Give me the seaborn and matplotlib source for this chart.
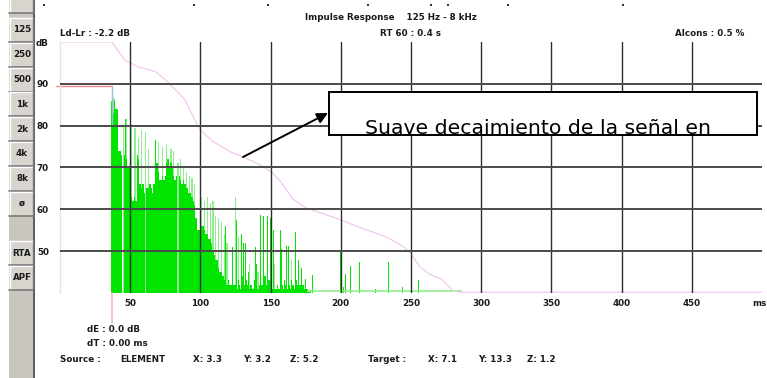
import numpy as np
import matplotlib
matplotlib.use("Agg")
import matplotlib.pyplot as plt
from matplotlib.patches import Rectangle
from matplotlib.lines import Line2D
import seaborn as sns

# ---------------- data ----------------
x_ticks = [50, 100, 150, 200, 250, 300, 350, 400, 450]
y_ticks = [50, 60, 70, 80, 90]
band_buttons = ["125", "250", "500", "1k", "2k", "4k", "8k", "ø", "", "RTA", "APF"]

direct_ms = 37          # arrival of direct sound
direct_db = 89.5
pre_ms = -3

dense_start_ms = 37
dense_db = [86, 83, 86, 84, 84, 74, 74, 73, 40, 73,
            72, 70, 70, 70, 63, 62, 63, 62, 73, 72,
            66, 65, 66, 64, 40, 65, 65, 66, 65, 64,
            66, 70, 71, 69, 67, 67, 68, 67, 68, 71,
            72, 70, 71, 70, 68, 67, 68, 40, 68, 67,
            66, 67, 66, 65, 65, 64, 64, 63, 62, 61,
            58, 55, 55, 55, 56, 56, 55, 54, 54, 53,
            53, 52, 50, 49, 48, 48, 46, 45, 45, 44,
            43, 43, 42, 43, 42, 42, 41, 42,
            42, 41, 43, 42, 41, 44, 42, 41, 43, 42,
            41, 42, 41, 41, 43, 42, 41, 42, 44, 42,
            43, 44, 42, 41, 43, 42, 41, 44, 41, 41,
            42, 41, 43, 42, 41, 43, 42, 41, 42, 41,
            43, 42, 41, 43, 42, 41, 42, 41, 42, 41,
            40.5, 41, 40.5, 40.5]

spike_ms = [38.5, 45, 47.5, 51, 53.5, 56, 58, 61, 63, 70, 73, 76, 79, 81, 84,
            86, 88, 90, 92, 94, 96, 101, 103, 105, 107, 109, 111, 113, 115,
            117, 119, 125, 127, 135, 141, 153, 165]
spike_db = [86.5, 80, 81.5, 80.5, 79.4, 77, 79, 78.5, 74.5, 76, 75, 75.5, 74.5,
            74, 71, 72, 70, 69, 68, 67.5, 66, 63, 62, 63, 61.5, 62, 58.5, 58,
            57, 54, 52, 63, 53.4, 47, 45, 47, 48]

peak_ms = [47, 68, 118, 123, 126, 129, 131, 132, 134, 139, 140, 143, 145, 148,
           150, 152, 157, 158, 161, 163, 168, 170, 172, 175, 180, 198, 200, 202,
           203, 207, 213, 225, 234, 244, 250, 255]
peak_db = [81.7, 76.5, 56, 51, 57.5, 54, 52, 52, 45, 51, 47, 58.7, 58.3, 58.3,
           58, 55, 55, 50.4, 51.2, 51.2, 54.5, 48, 46, 43.3, 44.4, 43.4, 50, 41.4,
           44.6, 46.4, 47.4, 41, 47.4, 41.4, 40.6, 43]

floor_ms = [176, 286]
floor_db = 40.4

decay_ms = [0, 37, 46, 50, 56, 62, 68, 75, 82, 89, 95, 100, 109, 121, 130, 142,
            151, 157, 166, 176, 187, 199, 211, 221, 233, 244, 249, 256, 263, 272,
            280, 285, 500]
decay_db = [100, 100, 95.7, 95, 94, 93.5, 92.9, 91, 88.6, 86.2, 82, 79, 76.2,
            73.8, 72.6, 70.7, 68.8, 66.7, 62.4, 60.2, 59, 57.6, 56, 54.8, 53.3,
            51.2, 49.8, 46.4, 44.5, 43.3, 40.5, 40.2, 40.2]

# ---------------- figure ----------------
sns.set_theme(style="white")
plt.rcParams["font.family"] = ["DejaVu Sans"]

W, H = 767, 378
fig = plt.figure(figsize=(W / 100, H / 100), dpi=100)
fig.patch.set_facecolor("white")

def fx(px):
    return px / W

def fy(py):
    return 1 - py / H

TXT = "#1a1a1a"
FS = 6.3

ax = fig.add_axes([fx(60), fy(293), fx(762) - fx(60), fy(42) - fy(293)])
ax.set_facecolor("white")

# bars
bright = "#00e400"
light = "#8fef8f"
ax.bar(spike_ms, np.array(spike_db) - 40, bottom=40, width=0.9,
       color=light, linewidth=0, zorder=1)
dense_ms = np.arange(dense_start_ms, dense_start_ms + len(dense_db))
ax.bar(dense_ms, np.array(dense_db) - 40, bottom=40, width=1.0,
       color=bright, linewidth=0, zorder=1.1, antialiased=False)
ax.bar(peak_ms, np.array(peak_db) - 40, bottom=40, width=0.7,
       color=bright, linewidth=0, zorder=1.2)
ax.hlines(floor_db, floor_ms[0], floor_ms[1], color=light, lw=1.2, zorder=1.3)

# decay curve
sns.lineplot(x=decay_ms, y=decay_db, ax=ax, color="#f0c2f0", lw=0.8,
             zorder=1.5, legend=False)

# direct sound markers
ax.plot([pre_ms, direct_ms], [direct_db, direct_db], color="#f08a8a", lw=1.0,
        clip_on=False, zorder=1.6)
ax.plot([direct_ms + 0.3, direct_ms + 0.3], [80, direct_db], color="#9dbfd6",
        lw=1.0, zorder=1.6)
ax.plot([direct_ms, direct_ms], [40, 32.8], color="#f7c0c0", lw=1.2,
        clip_on=False, zorder=1.6)

ax.set_xlim(0, 500)
ax.set_ylim(40, 100)
ax.set_xticks(x_ticks)
ax.set_yticks(y_ticks)
ax.set_xticklabels([str(t) for t in x_ticks])
ax.set_yticklabels([str(t) for t in y_ticks])
ax.tick_params(axis="both", length=0, labelsize=FS, colors=TXT)
ax.tick_params(axis="x", pad=4)
ax.tick_params(axis="y", pad=8)
for lab in ax.get_xticklabels() + ax.get_yticklabels():
    lab.set_fontweight("bold")
ax.set_axisbelow(False)
ax.grid(False)
ax.xaxis.grid(True, color="#2e2e2e", lw=1.0, zorder=2.5)
ax.yaxis.grid(True, color="#4a4a4a", lw=1.4, zorder=2.5)
ax.set_xlabel("")
ax.set_ylabel("")
for s in ["top", "right", "bottom"]:
    ax.spines[s].set_visible(False)
ax.spines["left"].set_color("#e4e4e4")
ax.spines["left"].set_linewidth(1.0)

# ---------------- texts ----------------
def t(px, py, s, ha="left", **kw):
    fig.text(fx(px), fy(py), s, ha=ha, va="center", fontsize=FS,
             fontweight="bold", color=TXT, **kw)

t(305, 18, "Impulse Response    125 Hz - 8 kHz")
t(380, 33, "RT 60 : 0.4 s")
t(675, 33, "Alcons : 0.5 %")
t(60, 33, "Ld-Lr : -2.2 dB")
t(36, 43, "dB")
t(752, 303, "ms")
t(87, 330, "dE : 0.0 dB")
t(87, 343, "dT : 0.00 ms")
t(60, 360, "Source :")
t(120, 360, "ELEMENT")
t(193, 360, "X: 3.3")
t(243, 360, "Y: 3.2")
t(290, 360, "Z: 5.2")
t(368, 360, "Target :")
t(428, 360, "X: 7.1")
t(478, 360, "Y: 13.3")
t(527, 360, "Z: 1.2")

# small marks at top (toolbar remnants)
for px in [43, 193, 267, 367, 430, 447, 507, 622]:
    fig.add_artist(Rectangle((fx(px), fy(6)), fx(2), 2 / H, transform=fig.transFigure,
                             facecolor="#333333", edgecolor="none"))

# ---------------- left button column ----------------
fig.add_artist(Rectangle((fx(9), 0), fx(24), 1, transform=fig.transFigure,
                         facecolor="#c9c6c0", edgecolor="none", zorder=3))
fig.add_artist(Line2D([fx(33.5), fx(33.5)], [0, 1], transform=fig.transFigure,
                      color="#404040", lw=1.2, zorder=4))

def button(top, bottom, label):
    fig.add_artist(Rectangle((fx(9), fy(bottom)), fx(24), (bottom - top) / H,
                             transform=fig.transFigure, facecolor="#d8d5cf",
                             edgecolor="none", zorder=4))
    fig.add_artist(Line2D([fx(9), fx(33)], [fy(top), fy(top)],
                          transform=fig.transFigure, color="white", lw=1, zorder=5))
    fig.add_artist(Line2D([fx(9.5), fx(9.5)], [fy(top), fy(bottom)],
                          transform=fig.transFigure, color="white", lw=1, zorder=5))
    fig.add_artist(Line2D([fx(9), fx(33)], [fy(bottom), fy(bottom)],
                          transform=fig.transFigure, color="#7a7a7a", lw=1.2, zorder=5))
    fig.add_artist(Line2D([fx(32.5), fx(32.5)], [fy(top), fy(bottom)],
                          transform=fig.transFigure, color="#7a7a7a", lw=1, zorder=5))
    if label:
        fig.text(fx(22), fy((top + bottom) / 2), label, ha="center", va="center",
                 fontsize=FS, fontweight="bold", color=TXT, zorder=6)

button(-5, 13, "")
for i, lab in enumerate(band_buttons):
    top = 18 + i * 24.8
    if lab:
        button(top, top + 24, lab)

# ---------------- annotation ----------------
box = Rectangle((fx(329), fy(135)), fx(757) - fx(329), fy(92) - fy(135),
                transform=fig.transFigure, facecolor="white", edgecolor="black",
                lw=1.3, zorder=8)
fig.add_artist(box)
txt = fig.text(fx(365), fy(134), "Suave decaimiento de la señal en", ha="left",
               va="baseline", fontsize=14.7, color="black", zorder=9,
               family="DejaVu Sans")
txt.set_clip_path(box)
# redraw the border above the clipped text
fig.add_artist(Rectangle((fx(329), fy(135)), fx(757) - fx(329), fy(92) - fy(135),
                         transform=fig.transFigure, facecolor="none",
                         edgecolor="black", lw=1.3, zorder=10))

ax.annotate("", xy=(328, H - 113), xycoords="figure pixels",
            xytext=(243, H - 157), textcoords="figure pixels",
            arrowprops=dict(arrowstyle="-|>", color="black", lw=1.4,
                            mutation_scale=16, shrinkA=0, shrinkB=0),
            zorder=9)

fig.savefig("out.png", dpi=100, facecolor="white")
